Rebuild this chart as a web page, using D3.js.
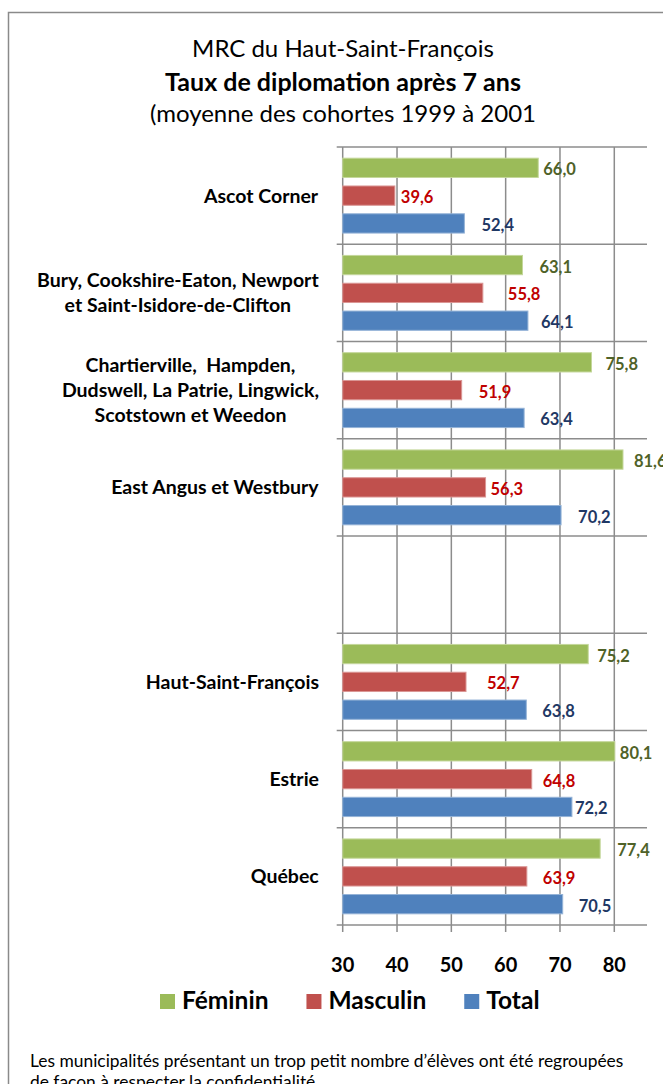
<!DOCTYPE html>
<html>
<head>
<meta charset="utf-8">
<script src="https://cdn.jsdelivr.net/npm/d3@7"></script>
<style>
  html, body { margin: 0; padding: 0; background: #fff; }
  svg { display: block; }
  text { font-family: Lato, "Open Sans", sans-serif; white-space: pre; }
</style>
</head>
<body>
<svg id="chart" width="663" height="1084"></svg>
<script>
// ---------- data ----------
const categories = [
  "Ascot Corner",
  "Bury, Cookshire-Eaton, Newport\net Saint-Isidore-de-Clifton",
  "Chartierville,  Hampden,\nDudswell, La Patrie, Lingwick,\nScotstown et Weedon",
  "East Angus et Westbury",
  " ",
  "Haut-Saint-François",
  "Estrie",
  "Québec"
];
const seriesNames = ["Féminin", "Masculin", "Total"];
const feminin  = [66.0, 63.1, 75.8, 81.6, null, 75.2, 80.1, 77.4];
const masculin = [39.6, 55.8, 51.9, 56.3, null, 52.7, 64.8, 63.9];
const total    = [52.4, 64.1, 63.4, 70.2, null, 63.8, 72.2, 70.5];
const xTicks = [30, 40, 50, 60, 70, 80];

// ---------- layout / style ----------
const colors = { "Féminin": "#9BBB59", "Masculin": "#C0504D", "Total": "#4F81BD" };
const strokes = { "Féminin": "#C4D79B", "Masculin": "#DA9694", "Total": "#95B3D7" };
const labelColors = { "Féminin": "#4F6228", "Masculin": "#C00000", "Total": "#1F3864" };
// manual label nudges (gap between bar end and label), per category then series
const labelGap = [
  [5, 6, 17], [17, 25, 13], [14, 17, 16], [11, 5, 17],
  [0, 0, 0], [9, 21, 16], [5, 11, 3], [17, 16, 16]
];

const svg = d3.select("#chart");
const gridColor = "#8c8c8c";

// outer border
svg.append("path")
  .attr("d", "M8.5,1100 L8.5,12.5 L670,12.5")
  .attr("fill", "none").attr("stroke", "#8a8a8a").attr("stroke-width", 1.5);

// titles
const titleX = 343;
svg.append("text").attr("x", titleX).attr("y", 57).attr("text-anchor", "middle")
  .attr("font-size", 24).attr("fill", "#000").text("MRC du Haut-Saint-François");
svg.append("text").attr("x", titleX).attr("y", 90.5).attr("text-anchor", "middle")
  .attr("font-size", 25).attr("font-weight", "bold").attr("fill", "#000").text("Taux de diplomation après 7 ans");
svg.append("text").attr("x", titleX).attr("y", 122).attr("text-anchor", "middle")
  .attr("font-size", 24).attr("fill", "#000").text("(moyenne des cohortes 1999 à 2001");

// scales
const x = d3.scaleLinear().domain([30, 80]).range([342.7, 614.3]);
const plotRight = 647;
const y = d3.scaleBand().domain(categories).range([147, 925]).paddingInner(0).paddingOuter(0);
const yInner = d3.scaleBand().domain(seriesNames).range([0, y.bandwidth()])
  .paddingInner(0.306).paddingOuter(0.402);

const plotTop = 147, plotBottom = 925;

// vertical gridlines
const g = svg.append("g");
g.selectAll("line.vgrid").data(xTicks).join("line")
  .attr("class", "vgrid")
  .attr("x1", d => x(d)).attr("x2", d => x(d))
  .attr("y1", plotTop).attr("y2", plotBottom + 7)
  .attr("stroke", gridColor).attr("stroke-width", 1.5);

// horizontal gridlines at category boundaries
const boundaries = categories.map(c => y(c)).concat([y(categories[categories.length - 1]) + y.bandwidth()]);
g.selectAll("line.hgrid").data(boundaries).join("line")
  .attr("class", "hgrid")
  .attr("x1", x(30) - 6).attr("x2", plotRight)
  .attr("y1", d => d).attr("y2", d => d)
  .attr("stroke", gridColor).attr("stroke-width", 1.5);

// bars
const rows = [];
categories.forEach((c, i) => {
  const vals = [feminin[i], masculin[i], total[i]];
  seriesNames.forEach((s, j) => {
    if (vals[j] != null) rows.push({ cat: c, series: s, value: vals[j], gap: labelGap[i][j] });
  });
});

svg.append("g").selectAll("rect").data(rows).join("rect")
  .attr("x", x(30))
  .attr("y", d => y(d.cat) + yInner(d.series))
  .attr("width", d => x(d.value) - x(30))
  .attr("height", yInner.bandwidth())
  .attr("fill", d => colors[d.series])
  .attr("stroke", d => strokes[d.series])
  .attr("stroke-width", 1);

// value labels
const fmt = v => v.toFixed(1).replace(".", ",");
svg.append("g").selectAll("text").data(rows).join("text")
  .attr("x", d => x(d.value) + d.gap)
  .attr("y", d => y(d.cat) + yInner(d.series) + yInner.bandwidth() / 2 + 7.5)
  .attr("font-size", 16.5).attr("font-weight", "bold")
  .attr("fill", d => labelColors[d.series])
  .text(d => fmt(d.value));

// category labels
const lineH = 25;
const catG = svg.append("g");
categories.forEach(c => {
  const lines = c.split("\n");
  const cy = y(c) + y.bandwidth() / 2;
  const t = catG.append("text")
    .attr("text-anchor", "middle")
    .attr("font-size", 19.5).attr("font-weight", "bold").attr("fill", "#000");
  const n = lines.length;
  lines.forEach((ln, k) => {
    t.append("tspan").attr("x", 0)
      .attr("y", cy + 7 + (k - (n - 1) / 2) * lineH)
      .text(ln);
  });
  // right-align the block, lines centred within it
  const w = t.node().getBBox().width;
  t.attr("transform", `translate(${319 - w / 2},0)`);
});

// x tick labels
svg.append("g").selectAll("text").data(xTicks).join("text")
  .attr("x", d => x(d)).attr("y", 972)
  .attr("text-anchor", "middle")
  .attr("font-size", 20).attr("font-weight", "bold").attr("fill", "#000")
  .text(d => d);

// legend
const legG = svg.append("g");
let lx = 160;
seriesNames.forEach(s => {
  legG.append("rect").attr("x", lx).attr("y", 994).attr("width", 15).attr("height", 15)
    .attr("fill", colors[s]);
  const t = legG.append("text").attr("x", lx + 22).attr("y", 1009)
    .attr("font-size", 24.5).attr("font-weight", "bold").attr("fill", "#000").text(s);
  lx += 22 + t.node().getComputedTextLength() + 38;
});

// footnote
svg.append("text").attr("x", 30).attr("y", 1067).attr("font-size", 17.4).attr("fill", "#000")
  .text("Les municipalités présentant un trop petit nombre d’élèves ont été regroupées");
svg.append("text").attr("x", 30).attr("y", 1088).attr("font-size", 17.4).attr("fill", "#000")
  .text("de façon à respecter la confidentialité.");
</script>
</body>
</html>
